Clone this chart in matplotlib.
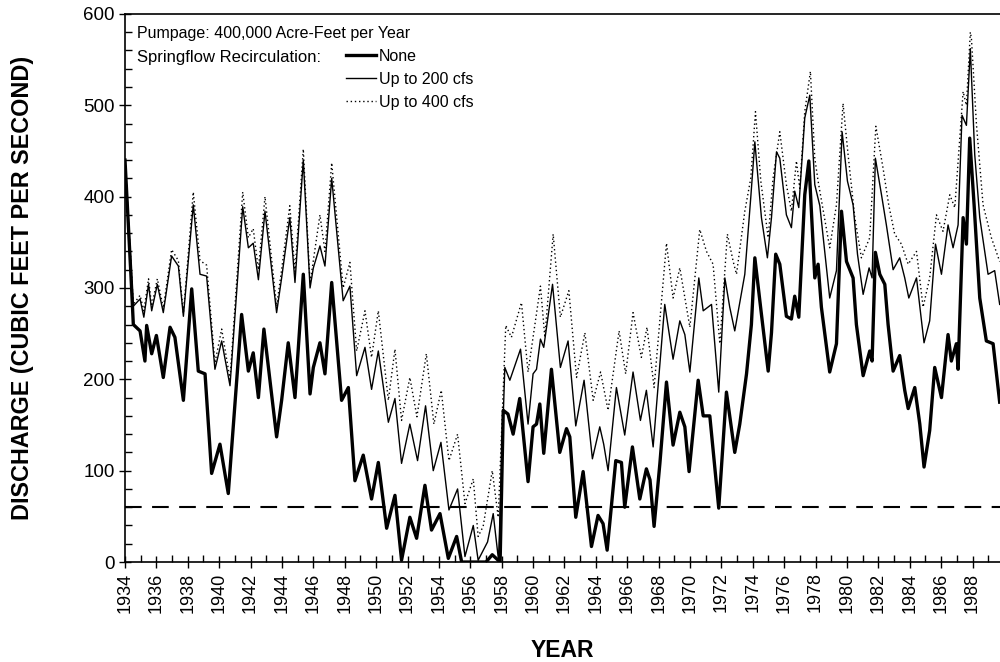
import matplotlib
matplotlib.use("Agg")
import matplotlib.pyplot as plt
from matplotlib.ticker import MultipleLocator
from matplotlib.lines import Line2D

plt.rcParams['font.family'] = ['Liberation Sans', 'DejaVu Sans']

# simulated springflow (year, cfs)
none_yr = [1934.0, 1934.42, 1934.53, 1934.96, 1935.27, 1935.38, 1935.7, 1936.0, 1936.44, 1936.87,
           1937.18, 1937.72, 1938.25, 1938.67, 1939.1, 1939.52, 1940.05, 1940.58, 1941.43, 1941.86,
           1942.17, 1942.5, 1942.85, 1943.66, 1943.98, 1944.4, 1944.83, 1945.36, 1945.79, 1946.0,
           1946.42, 1946.74, 1947.17, 1947.8, 1948.23, 1948.65, 1949.18, 1949.71, 1950.14, 1950.67,
           1951.2, 1951.62, 1952.15, 1952.58, 1953.11, 1953.53, 1954.07, 1954.6, 1955.13, 1955.45,
           1955.87, 1956.6, 1957.0, 1957.4, 1957.9, 1958.1, 1958.4, 1958.73, 1959.15, 1959.68,
           1960.0, 1960.22, 1960.43, 1960.68, 1961.17, 1961.7, 1962.13, 1962.34, 1962.72, 1963.19,
           1963.72, 1964.14, 1964.46, 1964.72, 1965.27, 1965.63, 1965.84, 1966.33, 1966.8, 1967.22,
           1967.45, 1967.71, 1968.08, 1968.5, 1968.92, 1969.35, 1969.67, 1969.94, 1970.52, 1970.84,
           1971.26, 1971.83, 1972.32, 1972.6, 1972.85, 1973.17, 1973.6, 1973.91, 1974.13, 1974.51,
           1974.98, 1975.19, 1975.46, 1975.72, 1976.14, 1976.46, 1976.67, 1976.93, 1977.31, 1977.57,
           1977.95, 1978.16, 1978.37, 1978.9, 1979.33, 1979.65, 1979.97, 1980.39, 1980.6, 1981.03,
           1981.45, 1981.6, 1981.81, 1982.09, 1982.41, 1982.62, 1982.94, 1983.36, 1983.68, 1983.9,
           1984.32, 1984.64, 1984.91, 1985.27, 1985.59, 1986.02, 1986.44, 1986.65, 1986.97, 1987.08,
           1987.4, 1987.61, 1987.82, 1988.1, 1988.46, 1988.88, 1989.31, 1989.73]
none_q = [440, 300, 260, 253, 220, 259, 228, 248, 202, 257,
          246, 177, 299, 209, 206, 97, 129, 75, 271, 209,
          229, 180, 255, 137, 177, 240, 180, 315, 184, 213,
          240, 206, 306, 177, 191, 89, 117, 69, 109, 37,
          73, 2, 49, 26, 84, 35, 53, 4, 28, 0,
          0, 0, 0, 8, 0, 166, 162, 140, 179, 88,
          148, 151, 173, 119, 211, 120, 146, 137, 49, 99,
          17, 51, 42, 13, 111, 109, 60, 126, 69, 102,
          90, 39, 108, 197, 128, 164, 148, 99, 199, 160,
          160, 59, 186, 151, 120, 151, 206, 260, 333, 277,
          209, 251, 337, 326, 269, 266, 291, 268, 402, 439,
          311, 326, 279, 208, 239, 384, 329, 311, 260, 204,
          231, 220, 339, 315, 304, 260, 209, 226, 188, 168,
          191, 151, 104, 144, 213, 180, 249, 220, 239, 211,
          377, 348, 464, 391, 289, 242, 239, 175]

c200_yr = [1934.0, 1934.53, 1934.96, 1935.2, 1935.5, 1935.7, 1936.06, 1936.44, 1936.97, 1937.4,
           1937.72, 1938.35, 1938.78, 1939.2, 1939.73, 1940.16, 1940.69, 1941.5, 1941.86, 1942.17,
           1942.5, 1942.92, 1943.66, 1943.98, 1944.5, 1944.83, 1945.36, 1945.79, 1946.0, 1946.42,
           1946.74, 1947.17, 1947.9, 1948.33, 1948.76, 1949.29, 1949.71, 1950.14, 1950.78, 1951.2,
           1951.62, 1952.15, 1952.64, 1953.15, 1953.64, 1954.13, 1954.64, 1955.19, 1955.66, 1956.19,
           1956.5, 1957.1, 1957.46, 1957.8, 1958.2, 1958.52, 1959.2, 1959.68, 1960.0, 1960.22,
           1960.47, 1960.68, 1961.24, 1961.74, 1962.23, 1962.72, 1963.25, 1963.78, 1964.25, 1964.5,
           1964.78, 1965.31, 1965.84, 1966.37, 1966.84, 1967.22, 1967.65, 1968.39, 1968.92, 1969.35,
           1969.67, 1969.99, 1970.56, 1970.84, 1971.37, 1971.83, 1972.22, 1972.53, 1972.85, 1973.49,
           1973.87, 1974.13, 1974.55, 1974.93, 1975.19, 1975.51, 1975.72, 1976.14, 1976.46, 1976.67,
           1976.93, 1977.31, 1977.63, 1977.95, 1978.27, 1978.9, 1979.33, 1979.69, 1980.03, 1980.39,
           1980.67, 1981.03, 1981.41, 1981.6, 1981.81, 1982.2, 1982.51, 1982.94, 1983.36, 1983.68,
           1983.94, 1984.43, 1984.91, 1985.27, 1985.64, 1986.02, 1986.44, 1986.76, 1987.08, 1987.33,
           1987.61, 1987.86, 1988.14, 1988.46, 1988.99, 1989.41, 1989.73]
c200_q = [440, 280, 288, 268, 304, 275, 304, 273, 335, 324,
          269, 391, 315, 313, 211, 242, 193, 389, 344, 349,
          309, 384, 273, 311, 377, 306, 440, 300, 322, 346,
          324, 420, 286, 302, 204, 235, 189, 231, 153, 179,
          108, 151, 111, 171, 100, 131, 57, 80, 6, 40,
          2, 22, 53, 2, 213, 199, 233, 151, 206, 211,
          244, 235, 304, 213, 242, 149, 199, 113, 148, 129,
          100, 191, 139, 208, 155, 188, 126, 282, 222, 264,
          249, 208, 311, 275, 282, 186, 311, 279, 253, 315,
          399, 460, 377, 333, 377, 449, 442, 380, 366, 406,
          388, 486, 511, 413, 390, 289, 319, 471, 417, 391,
          337, 293, 322, 311, 442, 402, 369, 320, 333, 311,
          289, 311, 240, 264, 348, 315, 369, 344, 369, 489,
          478, 562, 446, 377, 315, 319, 282]

c400_yr = [1934.0, 1934.53, 1934.96, 1935.2, 1935.5, 1935.7, 1936.06, 1936.44, 1936.97, 1937.4,
           1937.72, 1938.35, 1938.78, 1939.2, 1939.73, 1940.16, 1940.69, 1941.5, 1941.86, 1942.17,
           1942.5, 1942.92, 1943.66, 1943.98, 1944.5, 1944.83, 1945.36, 1945.79, 1946.0, 1946.42,
           1946.74, 1947.17, 1947.9, 1948.33, 1948.76, 1949.29, 1949.71, 1950.14, 1950.78, 1951.2,
           1951.62, 1952.15, 1952.6, 1953.2, 1953.68, 1954.15, 1954.64, 1955.19, 1955.66, 1956.19,
           1956.5, 1956.82, 1957.4, 1957.78, 1958.26, 1958.62, 1959.26, 1959.68, 1960.0, 1960.47,
           1960.75, 1961.28, 1961.74, 1962.28, 1962.77, 1963.3, 1963.83, 1964.3, 1964.78, 1965.48,
           1965.9, 1966.37, 1966.9, 1967.26, 1967.71, 1968.5, 1968.92, 1969.35, 1969.77, 1969.99,
           1970.62, 1971.05, 1971.47, 1971.9, 1972.38, 1972.75, 1972.96, 1973.49, 1973.87, 1974.17,
           1974.51, 1974.98, 1975.29, 1975.72, 1976.14, 1976.46, 1976.78, 1976.99, 1977.31, 1977.67,
           1977.95, 1978.16, 1978.9, 1979.33, 1979.75, 1980.07, 1980.5, 1980.92, 1981.45, 1981.84,
           1982.3, 1982.66, 1983.04, 1983.47, 1983.9, 1984.43, 1984.85, 1985.27, 1985.7, 1986.12,
           1986.55, 1986.87, 1987.4, 1987.61, 1987.86, 1987.93, 1988.25, 1988.67, 1989.2, 1989.73]
c400_q = [440, 282, 292, 275, 310, 280, 310, 278, 342, 330,
          272, 405, 330, 325, 218, 255, 200, 405, 355, 365,
          320, 400, 280, 320, 390, 318, 452, 305, 330, 380,
          340, 437, 300, 328, 231, 275, 224, 275, 177, 233,
          155, 202, 159, 228, 151, 188, 111, 140, 64, 91,
          28, 39, 100, 49, 259, 246, 284, 208, 246, 302,
          246, 359, 268, 297, 202, 251, 177, 208, 166, 253,
          206, 273, 224, 257, 191, 349, 289, 322, 279, 257,
          364, 340, 326, 239, 359, 329, 315, 384, 420, 493,
          417, 355, 420, 471, 413, 384, 439, 409, 493, 537,
          442, 417, 344, 391, 502, 446, 377, 333, 355, 477,
          431, 391, 359, 348, 326, 340, 279, 311, 380, 362,
          402, 388, 515, 500, 580, 573, 479, 391, 355, 329]

threshold = 60
xticks = list(range(1934, 1989, 2))

fig = plt.figure(figsize=(10, 6.62), dpi=100)
ax = fig.add_axes([0.125, 0.151, 0.875, 0.828])

ax.plot(none_yr, none_q, color='black', lw=2.4, solid_joinstyle='round')
ax.plot(c200_yr, c200_q, color='black', lw=1.0)
ax.plot(c400_yr, c400_q, color='black', lw=1.0, linestyle=(0, (1, 2)))
ax.axhline(threshold, color='black', lw=1.5, linestyle=(0, (8, 5)))

ax.set_xlim(1934, 1989.75)
ax.set_ylim(0, 600)
ax.set_xticks(xticks)
ax.set_xticklabels([str(y) for y in xticks], rotation=90, fontsize=13)
ax.xaxis.set_minor_locator(MultipleLocator(1))
ax.yaxis.set_major_locator(MultipleLocator(100))
ax.yaxis.set_minor_locator(MultipleLocator(20))
ax.tick_params(axis='x', which='major', direction='inout', length=9, width=1, pad=3)
ax.tick_params(axis='x', which='minor', direction='in', length=5, width=1)
ax.tick_params(axis='y', which='major', direction='inout', length=9, width=1, labelsize=13.5, pad=3)
ax.tick_params(axis='y', which='minor', direction='in', length=5, width=1)
for s in ax.spines.values():
    s.set_linewidth(1.2)
ax.spines['right'].set_visible(False)

ax.set_ylabel('DISCHARGE (CUBIC FEET PER SECOND)', fontsize=16.8, fontweight='bold', labelpad=35)
ax.set_xlabel('YEAR', fontsize=16.5, fontweight='bold', labelpad=19)

ax.text(0.014, 0.965, 'Pumpage: 400,000 Acre-Feet per Year', transform=ax.transAxes,
        fontsize=11.5, va='center', ha='left')
ax.text(0.014, 0.921, 'Springflow Recirculation:', transform=ax.transAxes,
        fontsize=12, va='center', ha='left')
handles = [Line2D([], [], color='black', lw=2.4),
           Line2D([], [], color='black', lw=1.0),
           Line2D([], [], color='black', lw=1.0, linestyle=(0, (1, 2)))]
ax.legend(handles, ['None', 'Up to 200 cfs', 'Up to 400 cfs'], loc='upper left',
          bbox_to_anchor=(0.252, 0.936), frameon=False, fontsize=11.5, handlelength=1.9,
          handletextpad=0.2, borderaxespad=0, borderpad=0, labelspacing=0.5)

fig.savefig('out.png', dpi=100)
